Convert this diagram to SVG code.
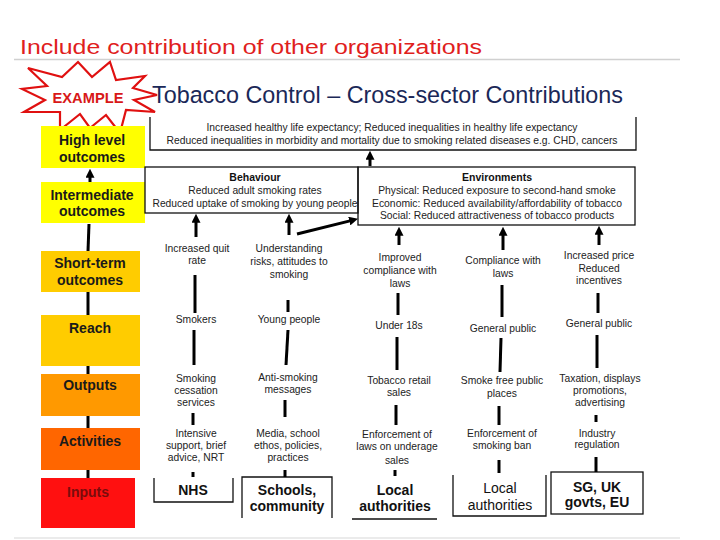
<svg xmlns="http://www.w3.org/2000/svg" width="720" height="540" viewBox="0 0 720 540">
<style>
.lbl{font-family:"Liberation Sans",Arial,sans-serif;font-size:10.3px;fill:#222;text-anchor:middle}
.bx{fill:none;stroke:#111;stroke-width:1.3}
.lvl{font-family:"Liberation Sans",Arial,sans-serif;font-size:14px;font-weight:bold;fill:#1a1a1a;text-anchor:middle}
.org{font-family:"Liberation Sans",Arial,sans-serif;font-size:14px;font-weight:bold;fill:#111;text-anchor:middle}
.hd{font-family:"Liberation Sans",Arial,sans-serif;font-size:10.5px;font-weight:bold;fill:#111;text-anchor:middle}
.cn{stroke:#000;stroke-width:3;fill:none}
.ca{stroke:#000;stroke-width:3;fill:none;marker-end:url(#ah)}
</style>
<defs>
<marker id="ah" viewBox="0 0 10 10" refX="2" refY="5" markerWidth="9" markerHeight="9" markerUnits="userSpaceOnUse" orient="auto">
<path d="M0,0 L10,5 L0,10 z" fill="#000"/>
</marker>
</defs>
<rect width="720" height="540" fill="#fff"/>
<text x="20" y="54" font-family="Liberation Sans,Arial,sans-serif" font-size="20.5" fill="#e0201c" textLength="462" lengthAdjust="spacingAndGlyphs">Include contribution of other organizations</text>
<line x1="14" y1="59.5" x2="680" y2="59.5" stroke="#d0d0d0" stroke-width="1.5"/>
<line x1="14" y1="538" x2="680" y2="538" stroke="#e4e4e4" stroke-width="1.5"/>

<g id="example">
<polygon points="110,62 116,80 145,76 133,88 157,95 134,100 155,112 126,110 120,133 106,115 90,128 80,114 60,130 60,112 24,112 45,100 22,89 47,86 28,68 62,77 78,62 92,77" fill="#fff" stroke="#e01010" stroke-width="2.2" stroke-linejoin="miter"/>
<text x="88" y="103" font-family="Liberation Sans,Arial,sans-serif" font-size="15" font-weight="bold" fill="#d81818" text-anchor="middle" textLength="71" lengthAdjust="spacingAndGlyphs">EXAMPLE</text>
</g>
<text x="152" y="103" font-family="Liberation Sans,Arial,sans-serif" font-size="24.5" fill="#1b2858" textLength="471" lengthAdjust="spacingAndGlyphs">Tobacco Control – Cross-sector Contributions</text>

<g id="high-level"><rect x="41" y="126" width="104" height="42" fill="#ffff00"/><text class="lvl" x="92" y="145">High level</text><text class="lvl" x="92" y="162">outcomes</text></g>
<g id="intermediate"><rect x="41" y="182" width="104" height="41" fill="#ffff00"/><text class="lvl" x="92" y="200">Intermediate</text><text class="lvl" x="92" y="216">outcomes</text></g>
<g id="short-term"><rect x="41" y="251" width="99" height="41" fill="#ffcc00"/><text class="lvl" x="90" y="268">Short-term</text><text class="lvl" x="90" y="285">outcomes</text></g>
<g id="reach"><rect x="41" y="315" width="99" height="51" fill="#ffcc00"/><text class="lvl" x="90" y="333">Reach</text></g>
<g id="outputs"><rect x="41" y="374" width="99" height="42" fill="#ff9900"/><text class="lvl" x="90" y="390">Outputs</text></g>
<g id="activities"><rect x="41" y="428" width="99" height="42" fill="#ff6600"/><text class="lvl" x="90" y="446">Activities</text></g>
<g id="inputs"><rect x="41" y="478" width="94" height="50" fill="#ff1010"/><text class="lvl" x="88" y="497" style="fill:#7a0c0c">Inputs</text></g>

<g id="high-level-box">
<path class="bx" d="M150,117 V150 H636 V117"/>
<text class="lbl" x="392" y="131" textLength="371" lengthAdjust="spacingAndGlyphs">Increased healthy life expectancy; Reduced inequalities in healthy life expectancy</text>
<text class="lbl" x="392" y="144" textLength="451" lengthAdjust="spacingAndGlyphs">Reduced inequalities in morbidity and mortality due to smoking related diseases e.g. CHD, cancers</text>
</g>
<g id="behaviour">
<rect class="bx" x="145" y="167" width="213" height="46" fill="#fff"/>
<text class="hd" x="255" y="181">Behaviour</text>
<text class="lbl" x="255" y="194">Reduced adult smoking rates</text>
<text class="lbl" x="255" y="207" textLength="205" lengthAdjust="spacingAndGlyphs">Reduced uptake of smoking by young people</text>
</g>
<g id="environments">
<rect class="bx" x="358" y="167" width="277" height="58" fill="#fff"/>
<text class="hd" x="497" y="181">Environments</text>
<text class="lbl" x="497" y="194">Physical: Reduced exposure to second-hand smoke</text>
<text class="lbl" x="497" y="207" textLength="250" lengthAdjust="spacingAndGlyphs">Economic: Reduced availability/affordability of tobacco</text>
<text class="lbl" x="497" y="219">Social: Reduced attractiveness of tobacco products</text>
</g>

<g id="col-nhs">
<text class="lbl" x="197" y="252">Increased quit</text><text class="lbl" x="197" y="264">rate</text>
<text class="lbl" x="196" y="323">Smokers</text>
<text class="lbl" x="196" y="382">Smoking</text><text class="lbl" x="196" y="394">cessation</text><text class="lbl" x="196" y="406">services</text>
<text class="lbl" x="196" y="437">Intensive</text><text class="lbl" x="196" y="449">support, brief</text><text class="lbl" x="196" y="461">advice, NRT</text>
<path class="bx" d="M154,478 V502 H233 V478"/>
<text class="org" x="193" y="495">NHS</text>
</g>
<g id="col-schools">
<text class="lbl" x="289" y="252">Understanding</text><text class="lbl" x="289" y="265">risks, attitudes to</text><text class="lbl" x="289" y="278">smoking</text>
<text class="lbl" x="289" y="323">Young people</text>
<text class="lbl" x="288" y="381">Anti-smoking</text><text class="lbl" x="288" y="393">messages</text>
<text class="lbl" x="288" y="437">Media, school</text><text class="lbl" x="288" y="449">ethos, policies,</text><text class="lbl" x="288" y="461">practices</text>
<path class="bx" d="M242,518 V477 H332 V518"/>
<text class="org" x="287" y="495">Schools,</text><text class="org" x="287" y="511">community</text>
</g>
<g id="col-la1">
<text class="lbl" x="400" y="261">Improved</text><text class="lbl" x="400" y="274">compliance with</text><text class="lbl" x="400" y="287">laws</text>
<text class="lbl" x="399" y="329">Under 18s</text>
<text class="lbl" x="399" y="384">Tobacco retail</text><text class="lbl" x="399" y="396">sales</text>
<text class="lbl" x="397" y="438">Enforcement of</text><text class="lbl" x="397" y="450">laws on  underage</text><text class="lbl" x="397" y="464">sales</text>
<line class="bx" x1="352" y1="519" x2="437" y2="519"/>
<text class="org" x="395" y="495">Local</text><text class="org" x="395" y="511">authorities</text>
</g>
<g id="col-la2">
<text class="lbl" x="503" y="264">Compliance with</text><text class="lbl" x="503" y="277">laws</text>
<text class="lbl" x="503" y="332">General public</text>
<text class="lbl" x="502" y="384">Smoke free public</text><text class="lbl" x="502" y="397">places</text>
<text class="lbl" x="502" y="437">Enforcement of</text><text class="lbl" x="502" y="449">smoking ban</text>
<path class="bx" d="M453,475 V516 H546 V475"/>
<text class="org" x="500" y="493" style="font-weight:normal">Local</text><text class="org" x="500" y="510" style="font-weight:normal">authorities</text>
</g>
<g id="col-govts">
<text class="lbl" x="599" y="259">Increased price</text><text class="lbl" x="599" y="272">Reduced</text><text class="lbl" x="599" y="284">incentives</text>
<text class="lbl" x="599" y="327">General public</text>
<text class="lbl" x="600" y="382">Taxation, displays</text><text class="lbl" x="600" y="394">promotions,</text><text class="lbl" x="600" y="406">advertising</text>
<text class="lbl" x="597" y="437">Industry</text><text class="lbl" x="597" y="448">regulation</text>
<rect class="bx" x="551" y="472" width="92" height="42" fill="#fff"/>
<text class="org" x="597" y="492">SG, UK</text><text class="org" x="597" y="507">govts, EU</text>
</g>

<g id="connectors">
<line class="ca" x1="90" y1="182" x2="90" y2="176"/>
<line class="cn" x1="89" y1="224" x2="88" y2="251"/>
<line class="cn" x1="88" y1="292" x2="88" y2="315"/>
<line class="cn" x1="88" y1="366" x2="88" y2="374"/>
<line class="cn" x1="88" y1="416" x2="88" y2="428"/>
<line class="cn" x1="88" y1="470" x2="88" y2="478"/>
<line class="ca" x1="370" y1="166" x2="370" y2="158"/>

<line class="ca" x1="196" y1="237" x2="196" y2="221"/>
<line class="cn" x1="195" y1="275" x2="195" y2="313"/>
<line class="cn" x1="194" y1="330" x2="194" y2="365"/>
<line class="cn" x1="193" y1="413" x2="193" y2="425"/>
<line class="cn" x1="193" y1="472" x2="193" y2="477"/>

<line class="ca" x1="289" y1="235" x2="289" y2="221"/>
<line class="ca" x1="297" y1="234" x2="351" y2="220.6"/>
<line class="cn" x1="288" y1="300" x2="288" y2="312"/>
<line class="cn" x1="288" y1="330" x2="286" y2="365"/>
<line class="cn" x1="285" y1="400" x2="285" y2="417"/>
<line class="cn" x1="285" y1="470" x2="285" y2="477"/>

<line class="ca" x1="399" y1="245" x2="399" y2="234"/>
<line class="cn" x1="398" y1="293" x2="398" y2="315"/>
<line class="cn" x1="397" y1="337" x2="397" y2="370"/>
<line class="cn" x1="396" y1="405" x2="396" y2="425"/>
<line class="cn" x1="395" y1="470" x2="395" y2="476"/>

<line class="ca" x1="503" y1="250" x2="503" y2="234"/>
<line class="cn" x1="502" y1="285" x2="502" y2="317"/>
<line class="cn" x1="501" y1="338" x2="500" y2="372"/>
<line class="cn" x1="499" y1="406" x2="499" y2="425"/>
<line class="cn" x1="499" y1="460" x2="499" y2="473"/>

<line class="ca" x1="599" y1="245" x2="599" y2="233"/>
<line class="cn" x1="598" y1="293" x2="598" y2="313"/>
<line class="cn" x1="597" y1="335" x2="597" y2="368"/>
<line class="cn" x1="596" y1="415" x2="596" y2="422"/>
<line class="cn" x1="596" y1="457" x2="596" y2="472"/>
</g>
</svg>
